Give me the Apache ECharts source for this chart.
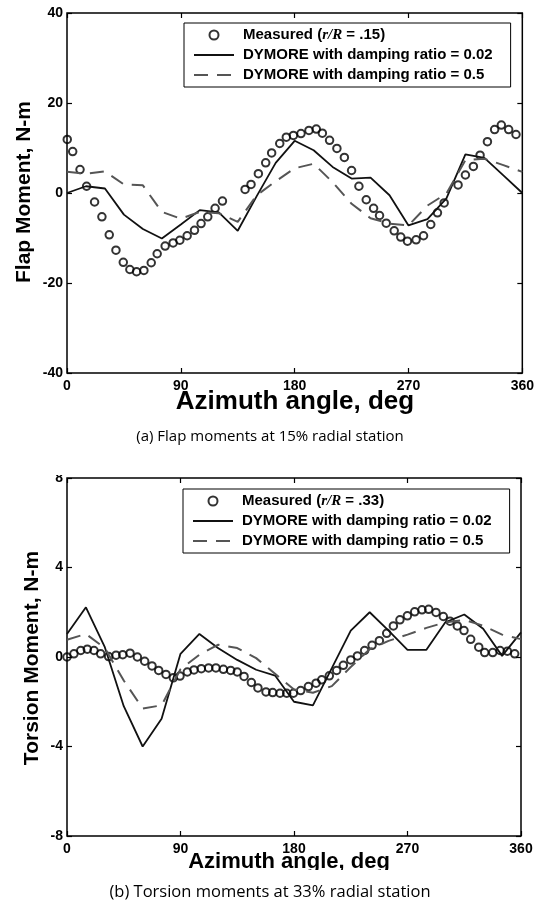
<!DOCTYPE html>
<html><head><meta charset="utf-8">
<script src="https://cdn.jsdelivr.net/npm/echarts@6/dist/echarts.min.js"></script>
<style>html,body{margin:0;padding:0;background:#fff}#c{width:537px;height:903px}</style>
</head><body><div id="c"></div>
<script>
// ---- Data ----
const xTicks = [0, 90, 180, 270, 360];
const flapTicks = [-40, -20, 0, 20, 40];
const torsionTicks = [-8, -4, 0, 4, 8];

const flapMeasAngle = [0.2,4.5,10.3,15.5,21.8,27.6,33.4,38.7,44.5,49.7,55,60.8,66.6,71.3,77.6,83.9,89.2,95,100.8,106,111.3,117.1,122.9,140.8,145.5,151.3,157.1,161.8,168.2,173.4,179,185,191.3,197.1,201.9,207.6,213.4,219.3,225,230.8,236.6,242.4,247.1,252.4,258.7,263.9,269.2,276,281.9,287.6,292.9,298.2,309.2,315,321.3,326.6,332.4,338.1,343.4,349.2,355];
const flapMeasValue = [11.9,9.2,5.2,1.5,-2.0,-5.3,-9.3,-12.7,-15.4,-17.0,-17.5,-17.2,-15.5,-13.5,-11.8,-11.1,-10.5,-9.5,-8.3,-6.8,-5.3,-3.4,-1.8,0.8,1.9,4.3,6.7,8.9,11.0,12.4,12.8,13.2,13.9,14.2,13.3,11.7,9.9,7.9,5.0,1.5,-1.5,-3.4,-5.0,-6.7,-8.4,-9.8,-10.7,-10.4,-9.5,-7.0,-4.4,-2.2,1.8,4.0,5.9,8.4,11.4,14.1,15.1,14.1,13.0];

const simAngle = [0,15,30,45,60,75,90,105,120,135,150,165,180,195,210,225,240,255,270,285,300,315,330,345,360];
const flapDamp002 = [0,1.5,1.0,-4.8,-8.0,-10.1,-7.0,-3.8,-4.3,-8.4,-0.7,6.7,11.6,9.5,5.8,3.2,3.4,-0.5,-7.2,-5.8,-1.2,8.6,7.8,3.9,0];
const flapDamp05 = [4.7,4.3,4.8,1.9,1.7,-4.2,-5.7,-4.2,-4.5,-6.4,-0.5,2.6,5.5,6.5,2.4,-2.4,-5.6,-6.8,-7.2,-2.8,-0.1,7.3,7.6,6.2,4.7];

const torMeasAngle = [0,5.5,10.9,16.1,21.4,26.7,33,38.9,44.2,50,55.8,61.6,67.4,72.7,78.5,84.3,89.6,95.4,100.7,106.5,112.3,118.1,124,129.8,135,140.4,146.2,151.4,157.8,163.1,168.9,174.2,179.5,185.3,191.4,197.5,202,208,213.8,219.1,225,230.3,236,241.9,247.7,253.5,258.8,264,269.9,275.7,281.5,286.8,292.6,298.4,303.7,309.5,314.8,320.1,326.5,331.2,337.6,343.4,349.2,355];
const torMeasValue = [0.0,0.14,0.29,0.35,0.29,0.14,0.02,0.08,0.1,0.17,0,-0.19,-0.4,-0.6,-0.78,-0.93,-0.85,-0.67,-0.58,-0.52,-0.49,-0.49,-0.55,-0.6,-0.67,-0.87,-1.14,-1.38,-1.56,-1.59,-1.62,-1.62,-1.62,-1.5,-1.32,-1.17,-1.02,-0.84,-0.6,-0.37,-0.13,0.05,0.29,0.52,0.73,1.06,1.39,1.66,1.84,2.02,2.11,2.13,1.99,1.81,1.6,1.39,1.18,0.79,0.44,0.2,0.2,0.29,0.26,0.14];
const torDamp002 = [1.03,2.22,0.44,-2.2,-4.0,-2.76,0.14,1.03,0.39,-0.13,-0.57,-0.83,-2.0,-2.16,-0.5,1.18,2.0,1.18,0.32,0.32,1.55,1.9,1.26,0.05,1.1];
const torDamp05 = [0.77,1.03,0.4,-1.05,-2.3,-2.16,-0.55,0.1,0.55,0.4,-0.05,-0.75,-1.45,-1.6,-1.3,-0.45,0.35,0.72,1.0,1.3,1.55,1.66,1.4,1.0,0.8];

const legendText = {
  m1: 'Measured ({i|r/R} = .15)',
  s1: 'DYMORE with damping ratio = 0.02',
  d1: 'DYMORE with damping ratio = 0.5',
  m2: 'Measured ({i|r/R} = .33)',
  s2: 'DYMORE with damping ratio = 0.02',
  d2: 'DYMORE with damping ratio = 0.5'
};

const zip = (a, b) => a.map((v, i) => [v, b[i]]);

// ---- Styles ----
const FONT = '"Liberation Sans", Arial, sans-serif';
const tickLabel = {color: '#000', fontFamily: FONT, fontWeight: 'bold', fontSize: 14};
const tickStyle = {inside: true, length: 5, lineStyle: {color: '#000', width: 1.2}};

function xAxes(gi) {
  return [
    {gridIndex: gi, type: 'value', min: 0, max: 360, interval: 90, position: 'bottom',
     axisLine: {show: false, onZero: false}, splitLine: {show: false}, axisTick: tickStyle,
     axisLabel: Object.assign({margin: 6}, tickLabel)},
    {gridIndex: gi, type: 'value', min: 0, max: 360, interval: 90, position: 'top',
     axisLine: {show: false, onZero: false}, splitLine: {show: false}, axisTick: tickStyle,
     axisLabel: {show: false}}
  ];
}
function yAxes(gi, ticks) {
  const mn = ticks[0], mx = ticks[ticks.length - 1], iv = ticks[1] - ticks[0];
  return [
    {gridIndex: gi, type: 'value', min: mn, max: mx, interval: iv, position: 'left',
     axisLine: {show: false, onZero: false}, splitLine: {show: false}, axisTick: tickStyle,
     axisLabel: Object.assign({margin: 4}, tickLabel)},
    {gridIndex: gi, type: 'value', min: mn, max: mx, interval: iv, position: 'right',
     axisLine: {show: false, onZero: false}, splitLine: {show: false}, axisTick: tickStyle,
     axisLabel: {show: false}}
  ];
}

function measured(name, xi, yi, a, v) {
  return {name, type: 'scatter', xAxisIndex: xi, yAxisIndex: yi, data: zip(a, v),
    symbol: 'circle', symbolSize: 7.5, z: 3,
    itemStyle: {color: 'rgba(255,255,255,0)', borderColor: '#000', borderWidth: 2}};
}
function simLine(name, xi, yi, v, dashed) {
  return {name, type: 'line', xAxisIndex: xi, yAxisIndex: yi, data: zip(simAngle, v),
    symbol: 'none', z: 4,
    lineStyle: dashed ? {color: '#555', width: 2, type: [14, 9]} : {color: '#111', width: 1.8, type: 'solid'},
    itemStyle: {color: dashed ? '#555' : '#111'}};
}

function legendAt(left, top, names) {
  const hidden = {opacity: 0, color: 'rgba(0,0,0,0)', borderWidth: 0};
  return {
    left, top, orient: 'vertical', selectedMode: false,
    data: [{name: names[0]}, {name: names[1], itemStyle: hidden}, {name: names[2], itemStyle: hidden}],
    itemWidth: 40, itemHeight: 9, itemGap: 4, padding: [4, 18, 4, 9],
    borderColor: '#000', borderWidth: 1, backgroundColor: '#fff',
    formatter: n => legendText[n],
    textStyle: {color: '#000', fontFamily: FONT, fontWeight: 'bold', fontSize: 15, lineHeight: 16,
      padding: [0, 0, 0, 4],
      rich: {i: {fontFamily: '"Liberation Serif", "Times New Roman", serif', fontStyle: 'italic',
        fontWeight: 'bold', fontSize: 15, lineHeight: 16, color: '#000'}}}
  };
}

const chart = echarts.init(document.getElementById('c'), null, {renderer: 'canvas'});
chart.setOption({
  animation: false,
  backgroundColor: '#fff',
  grid: [
    {left: 67, top: 13, width: 457, height: 360, show: true, borderColor: '#000', borderWidth: 1.5, backgroundColor: 'transparent'},
    {left: 67, top: 478, width: 454, height: 358, show: true, borderColor: '#000', borderWidth: 1.5, backgroundColor: 'transparent'}
  ],
  xAxis: [...xAxes(0), ...xAxes(1)],
  yAxis: [...yAxes(0, flapTicks), ...yAxes(1, torsionTicks)],
  legend: [legendAt(184, 23, ['m1', 's1', 'd1']), legendAt(183, 489, ['m2', 's2', 'd2'])],
  series: [
    measured('m1', 0, 0, flapMeasAngle, flapMeasValue),
    simLine('s1', 0, 0, flapDamp002, false),
    simLine('d1', 0, 0, flapDamp05, true),
    measured('m2', 2, 2, torMeasAngle, torMeasValue),
    simLine('s2', 2, 2, torDamp002, false),
    simLine('d2', 2, 2, torDamp05, true)
  ],
  graphic: [
    {type: 'rect', shape: {x: 30, y: 450, width: 35, height: 25}, style: {fill: '#fff'}, z: 100},
    {type: 'text', x: 24, y: 192, rotation: Math.PI / 2, z: 101,
     style: {text: 'Flap Moment, N-m', font: 'bold 21px ' + FONT, fill: '#000', textAlign: 'center', textVerticalAlign: 'middle'}},
    {type: 'text', x: 295, y: 402, z: 101,
     style: {text: 'Azimuth angle, deg', font: 'bold 26px ' + FONT, fill: '#000', textAlign: 'center', textVerticalAlign: 'middle'}},
    {type: 'text', x: 270, y: 437, z: 101,
     style: {text: '(a) Flap moments at 15% radial station', font: '15px "Open Sans", "Noto Sans", sans-serif', fill: '#000', textAlign: 'center', textVerticalAlign: 'middle'}},
    {type: 'text', x: 32, y: 658, rotation: Math.PI / 2, z: 101,
     style: {text: 'Torsion Moment, N-m', font: 'bold 21px ' + FONT, fill: '#000', textAlign: 'center', textVerticalAlign: 'middle'}},
    {type: 'text', x: 289, y: 862, z: 101,
     style: {text: 'Azimuth angle, deg', font: 'bold 22px ' + FONT, fill: '#000', textAlign: 'center', textVerticalAlign: 'middle'}},
    {type: 'rect', shape: {x: 150, y: 870, width: 300, height: 8}, style: {fill: '#fff'}, z: 102},
    {type: 'text', x: 270, y: 892, z: 103,
     style: {text: '(b) Torsion moments at 33% radial station', font: '16.5px "Open Sans", "Noto Sans", sans-serif', fill: '#000', textAlign: 'center', textVerticalAlign: 'middle'}}
  ]
});
</script></body></html>
